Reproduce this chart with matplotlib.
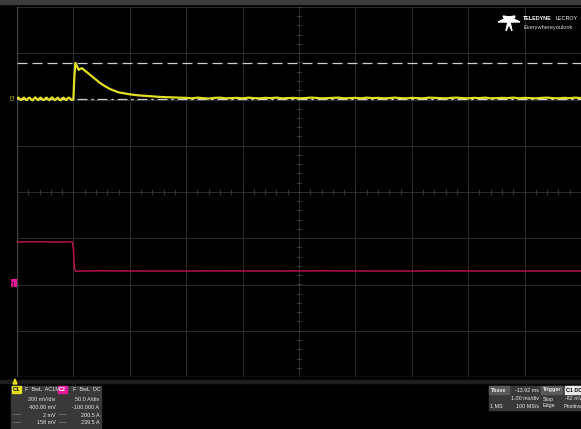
import numpy as np
import matplotlib
matplotlib.use("Agg")
import matplotlib.pyplot as plt
from matplotlib.patches import Rectangle, Polygon

W, H = 581, 429

# channel settings (as shown on the scope)
C1_SCALE, C1_OFFSET = 200.0, 400.0      # mV/div, mV
C2_SCALE, C2_OFFSET = 50.0, -100.0      # A/div, A
CURSORS_MV = [2.0, 158.0]

# C1 (mV) - ripple before the step, transient, then settled trace
c1_pre_t = np.arange(-1.0, 0.0, 0.025)
c1_pre_v = [4, 8, 2, -3, 5, 8, 1, -3, 6, 8, 0, -4, 4, 9, 2, -3, 6, 8, 0, -3,
            5, 8, 1, -3, 6, 9, 2, -3, 4, 8, 0, -4, 5, 8, 2, -3, 6, 8, 1, -2]
c1_step_t = [0.0, 0.015, 0.035, 0.06, 0.094, 0.125, 0.154, 0.2, 0.3, 0.4, 0.48,
             0.57, 0.66, 0.8, 1.01, 1.15, 1.31, 1.54, 1.9]
c1_step_v = [0, 90, 158, 145, 128, 133, 135, 126, 106, 86, 70, 56, 44, 31, 22,
             18, 15, 11, 8]
c1_tail_t = np.arange(2.0, 9.05, 0.1)
c1_tail_v = [7, 5, 8, 6, 4, 7, 8, 5, 6, 7, 5, 8, 6, 5, 7, 6, 8, 5, 6, 7,
             5, 6, 8, 7, 5, 6, 7, 8, 5, 6, 7, 5, 8, 6, 7, 5, 6, 8, 6, 5,
             7, 6, 5, 8, 7, 6, 5, 7, 8, 6, 5, 7, 6, 8, 5, 6, 7, 6, 8, 5,
             7, 6, 5, 7, 8, 6, 5, 7, 6, 8, 6]

# C2 (A)
c2_t = [-1.0, -0.6, -0.3, -0.02, 0.0, 0.02, 0.04, 0.08, 0.5, 1.5, 2.5, 3.5,
        4.5, 5.5, 6.5, 7.5, 9.0]
c2_v = [46.0, 46.2, 45.9, 46.0, 38.0, 17.0, 14.2, 14.6, 14.8, 14.5, 14.7, 14.6,
        14.8, 14.5, 14.7, 14.6, 14.6]

# readouts
c1_lines = ["200 mV/div", "400.00 mV", "2 mV", "158 mV"]
c2_lines = ["50.0 A/div", "-100.000 A", "200.5 A", "239.5 A"]

YELLOW = "#e3e021"
MAGENTA = "#b8104a"
PINK = "#e8189a"
GRIDC = "#2c2c2c"
FONT = "Liberation Sans"


def fx(x):
    return x / W


def fy(y):
    return 1 - y / H


fig = plt.figure(figsize=(W / 100, H / 100), dpi=100, facecolor="black")

# top strip
fig.patches.append(Rectangle((0, fy(4)), 1, 4 / H, transform=fig.transFigure,
                             color="#3c3c3c", zorder=0))

ax = fig.add_axes([fx(17), fy(377), 564 / W, 370 / H])
ax.set_facecolor("black")
ax.set_xlim(-1, 9)
ax.set_ylim(-4, 4)
ax.axis("off")

# graticule
for gx in range(-1, 10):
    ax.axvline(gx, color=GRIDC, lw=0.7, zorder=1)
for gy in range(-4, 5):
    ax.axhline(gy, color=GRIDC, lw=0.7, zorder=1)
ax.plot([-1, -1, 9], [4, -4, -4], color="#444444", lw=1.0, zorder=1)
for k in np.arange(-4, 4.01, 0.2):
    ax.plot([3.97, 4.03], [k, k], color="#3a3a3a", lw=0.7, zorder=1)
for k in np.arange(-1, 9.01, 0.2):
    ax.plot([k, k], [-0.035, 0.035], color="#3a3a3a", lw=0.7, zorder=1)

# cursors
cur = [(v + C1_OFFSET) / C1_SCALE for v in CURSORS_MV]
ax.axhline(cur[1], color="#cfcfcf", lw=0.9, dashes=(8, 4), zorder=2)
ax.axhline(cur[0], color="#cfcfcf", lw=0.9, dashes=(8, 3, 2, 3), zorder=2)

# traces
c1_t = np.concatenate([c1_pre_t, c1_step_t, c1_tail_t])
c1_v = np.concatenate([c1_pre_v, c1_step_v, c1_tail_v])
ax.plot(c1_t, (c1_v + C1_OFFSET) / C1_SCALE, color=YELLOW, lw=1.6, zorder=4)
ax.plot(c2_t, (np.array(c2_v) + C2_OFFSET) / C2_SCALE, color=MAGENTA, lw=1.1,
        zorder=3)

# channel markers on left edge
fig.text(fx(13.5), fy(97), "C1", color=YELLOW, fontsize=3.6, rotation=90,
         ha="center", va="center", family=FONT)
fig.text(fx(13.5), fy(283), "C2", color="black", fontsize=3.6, rotation=90,
         ha="center", va="center", family=FONT,
         bbox=dict(boxstyle="square,pad=0.1", fc=PINK, ec="none"))
fig.patches.append(Polygon([(fx(13), fy(384)), (fx(17), fy(384)), (fx(15), fy(379))],
                           closed=True, transform=fig.transFigure, color=YELLOW))

# logo
fan = [[(498, 22), (509, 17), (508, 22)], [(520, 22), (509, 17), (510, 22)],
       [(503, 16), (509, 17), (506, 22)], [(515, 16), (509, 17), (512, 22)],
       [(509, 17), (506, 31), (509, 24)], [(509, 17), (512, 31), (509, 24)]]
for tri in fan:
    fig.patches.append(Polygon([(fx(a), fy(b)) for a, b in tri], closed=True,
                               transform=fig.transFigure, color="white"))
fig.text(fx(523), fy(19), "TELEDYNE", color="white", fontsize=3.9,
         fontweight="bold", va="center", family=FONT)
fig.text(fx(556), fy(19), "LECROY", color="white", fontsize=3.9,
         va="center", family=FONT)
fig.text(fx(523), fy(27), "Everywhereyoulook", color="#dddddd", fontsize=4.1,
         va="center", family=FONT)

# bottom info panel
fig.patches.append(Rectangle((0, fy(383)), 1, 3 / H, transform=fig.transFigure,
                             color="#1e1e1e", zorder=0))


def box(x0, x1, y0=386, y1=429, fc="#393939"):
    fig.patches.append(Rectangle((fx(x0), fy(y1)), (x1 - x0) / W, (y1 - y0) / H,
                                 transform=fig.transFigure, color=fc, zorder=1))


def txt(x, y, s, ha="left", color="#e8e8e8", weight="normal", size=4.0, **kw):
    fig.text(fx(x), fy(y), s, ha=ha, va="center", color=color, fontsize=size,
             fontweight=weight, family=FONT, **kw)


box(11, 56.5)
box(57.5, 101)
box(12, 21, 386, 393, fc=YELLOW)
box(58, 67, 386, 393, fc=PINK)
txt(13, 389.5, "C1", color="black", weight="bold")
txt(59, 389.5, "C2", color="white", weight="bold")
txt(25, 389.5, "F  BwL  AC1M")
txt(73, 389.5, "F  BwL  DC")

for i, (a, b) in enumerate(zip(c1_lines, c2_lines)):
    yy = 399.5 + 7.8 * i
    txt(55.5, yy, a, ha="right")
    txt(99.5, yy, b, ha="right")
    if i >= 2:
        txt(13, yy, "-----", color="#bbbbbb")
        txt(59, yy, "-----", color="#bbbbbb")

box(489, 540, y1=410)
box(541, 581, y1=410)
box(489, 509, 386, 393.5, fc="#5a5a5a")
box(541, 562, 386, 393.5, fc="#5a5a5a")
box(565, 581, 386, 393.5, fc="#e8e8e8")
txt(490.5, 390, "Tbase", weight="bold", size=3.9)
txt(539, 390, "-13.92 ms", ha="right", size=3.9)
txt(539, 399, "1.00 ms/div", ha="right", size=3.9)
txt(490.5, 406, "1 MS", size=3.9)
txt(539, 406, "100 MS/s", ha="right", size=3.9)
txt(542.5, 390, "Trigger", weight="bold", size=3.9)
txt(566, 390, "C1 DC", color="black", weight="bold", size=3.9)
txt(542.5, 399, "Stop", size=3.9)
txt(565, 399, "-82 mV", size=3.9)
txt(542.5, 406, "Edge", size=3.9)
txt(563, 406, "Positive", size=3.9)

fig.savefig("out.png", dpi=100, facecolor="black")
